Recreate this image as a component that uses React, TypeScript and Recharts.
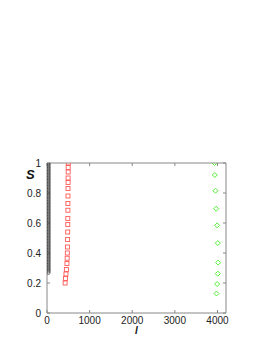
import React from 'react';
import { ScatterChart, Scatter, XAxis, YAxis } from 'recharts';

// Black circles (series 1)
const blackS = [1.0, 0.99, 0.98, 0.97, 0.96, 0.95, 0.94, 0.93, 0.92, 0.91, 0.9, 0.89, 0.88, 0.87, 0.86, 0.85, 0.84, 0.83, 0.82, 0.81, 0.8, 0.79, 0.78, 0.77, 0.76, 0.75, 0.74, 0.73, 0.72, 0.71, 0.7, 0.69, 0.68, 0.67, 0.66, 0.65, 0.64, 0.63, 0.62, 0.61, 0.6, 0.59, 0.58, 0.57, 0.56, 0.55, 0.54, 0.53, 0.52, 0.51, 0.5, 0.49, 0.48, 0.47, 0.46, 0.45, 0.44, 0.43, 0.42, 0.41, 0.4, 0.39, 0.38, 0.37, 0.36, 0.35, 0.34, 0.33, 0.32, 0.31, 0.3, 0.29, 0.28, 0.27];
const blackL = 30;

// Red squares (series 2)
const redL = [500, 497, 497, 495, 495, 493, 492, 490, 490, 488, 487, 485, 483, 480, 477, 473, 468, 455, 445, 435, 425];
const redS = [1.0, 0.97, 0.94, 0.9, 0.87, 0.83, 0.78, 0.73, 0.685, 0.63, 0.59, 0.54, 0.49, 0.44, 0.4, 0.365, 0.33, 0.29, 0.26, 0.23, 0.2];

// Green diamonds (series 3)
const greenL = [3929, 3937, 3953, 3969, 3992, 4008, 4016, 4008, 3992, 3976];
const greenS = [1.0, 0.92, 0.815, 0.695, 0.584, 0.466, 0.336, 0.262, 0.193, 0.13];

const xLabelTicks = [0, 1000, 2000, 3000, 4000];
const xMinorTicks = [0, 500, 1000, 1500, 2000, 2500, 3000, 3500, 4000];
const yLabelTicks = [0, 0.2, 0.4, 0.6, 0.8, 1];
const yMinorTicks = [0, 0.1, 0.2, 0.3, 0.4, 0.5, 0.6, 0.7, 0.8, 0.9, 1];

const blackData = blackS.map((s) => ({ l: blackL, s }));
const redData = redL.map((l, i) => ({ l, s: redS[i] }));
const greenData = greenL.map((l, i) => ({ l, s: greenS[i] }));
const noData: { l: number; s: number }[] = [];

const AXIS = '#888888';
const FONT = 'Liberation Sans, Arial, sans-serif';

const Circle = (p: any) => (
  <circle cx={p.cx} cy={p.cy} r={1.9} fill="none" stroke="#3a3a3a" strokeWidth={0.7} />
);
const Square = (p: any) => (
  <rect x={p.cx - 2} y={p.cy - 2} width={4} height={4} fill="none" stroke="#ff5a5a" strokeWidth={0.9} />
);
const Diamond = (p: any) => (
  <path
    d={`M${p.cx},${p.cy - 2.5}L${p.cx + 2.5},${p.cy}L${p.cx},${p.cy + 2.5}L${p.cx - 2.5},${p.cy}Z`}
    fill="none"
    stroke="#44ee22"
    strokeWidth={0.9}
  />
);

const Empty = () => <g />;

export default function App() {
  return (
    <div style={{ position: 'absolute', left: 0, top: 0, width: 273, height: 353, background: '#fff' }}>
      <ScatterChart width={273} height={353} margin={{ top: 163, right: 47, bottom: 20, left: 17 }}>
        <XAxis
          xAxisId="b"
          dataKey="l"
          type="number"
          domain={[0, 4200]}
          allowDataOverflow
          ticks={xLabelTicks}
          tickLine={false}
          tickSize={0}
          tickMargin={4}
          height={20}
          axisLine={{ stroke: AXIS }}
          tick={{ fontSize: 10, fill: '#222', fontFamily: FONT }}
        />
        <XAxis
          xAxisId="bm"
          dataKey="l"
          type="number"
          orientation="bottom"
          mirror
          domain={[0, 4200]}
          allowDataOverflow
          ticks={xMinorTicks}
          tickSize={3}
          tick={Empty}
          axisLine={false}
          tickLine={{ stroke: AXIS }}
        />
        <XAxis
          xAxisId="t"
          dataKey="l"
          type="number"
          orientation="top"
          mirror
          domain={[0, 4200]}
          allowDataOverflow
          ticks={xMinorTicks}
          tickSize={3}
          tick={Empty}
          axisLine={{ stroke: AXIS }}
          tickLine={{ stroke: AXIS }}
        />
        <YAxis
          yAxisId="l"
          dataKey="s"
          type="number"
          domain={[0, 1]}
          allowDataOverflow
          ticks={yLabelTicks}
          tickLine={false}
          tickSize={0}
          tickMargin={6}
          width={30}
          axisLine={{ stroke: AXIS }}
          tick={{ fontSize: 10, fill: '#222', fontFamily: FONT }}
        />
        <YAxis
          yAxisId="lm"
          dataKey="s"
          type="number"
          orientation="left"
          mirror
          domain={[0, 1]}
          allowDataOverflow
          ticks={yMinorTicks}
          tickSize={3}
          tick={Empty}
          axisLine={false}
          tickLine={{ stroke: AXIS }}
        />
        <YAxis
          yAxisId="r"
          dataKey="s"
          type="number"
          orientation="right"
          mirror
          domain={[0, 1]}
          allowDataOverflow
          ticks={yMinorTicks}
          tickSize={3}
          tick={Empty}
          axisLine={{ stroke: AXIS }}
          tickLine={{ stroke: AXIS }}
        />
        <Scatter data={noData} xAxisId="bm" yAxisId="lm" shape={Circle} isAnimationActive={false} />
        <Scatter data={noData} xAxisId="t" yAxisId="r" shape={Circle} isAnimationActive={false} />
        <Scatter data={blackData} xAxisId="b" yAxisId="l" shape={Circle} isAnimationActive={false} />
        <Scatter data={redData} xAxisId="b" yAxisId="l" shape={Square} isAnimationActive={false} />
        <Scatter data={greenData} xAxisId="b" yAxisId="l" shape={Diamond} isAnimationActive={false} />
      </ScatterChart>
      <span
        style={{
          position: 'absolute',
          left: 26,
          top: 168,
          fontFamily: FONT,
          fontSize: 13,
          lineHeight: '14px',
          fontWeight: 'bold',
          fontStyle: 'italic',
          color: '#111',
        }}
      >
        S
      </span>
      <span
        style={{
          position: 'absolute',
          left: 135,
          top: 326,
          fontFamily: FONT,
          fontSize: 10,
          lineHeight: '9px',
          fontWeight: 'bold',
          fontStyle: 'italic',
          color: '#111',
        }}
      >
        l
      </span>
    </div>
  );
}
